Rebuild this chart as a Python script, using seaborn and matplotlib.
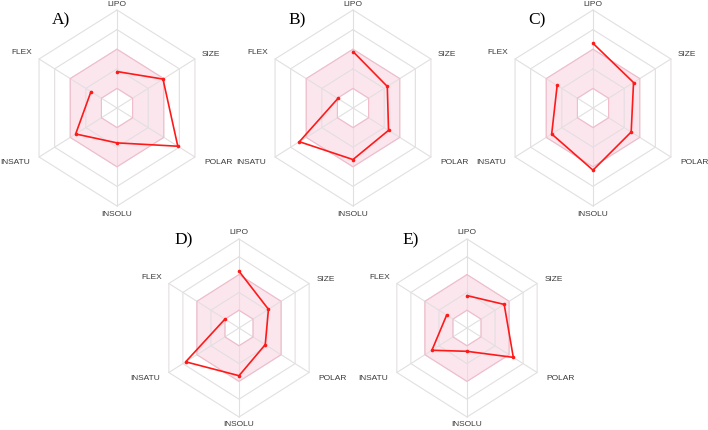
import numpy as np
import pandas as pd
import matplotlib
matplotlib.use("Agg")
import matplotlib.pyplot as plt
import seaborn as sns

# radar axes, clockwise from the top
props = ["LIPO", "SIZE", "POLAR", "INSOLU", "INSATU", "FLEX"]
angles_deg = [90, 30, -30, -90, -150, 150]

# values, in ring units (ring 1 = inner hole, ring 5 = outer edge)
vals_a = [1.86, 2.95, 3.90, 1.78, 2.65, 1.67]
vals_b = [2.88, 2.20, 2.28, 2.63, 3.44, 0.97]
vals_c = [3.30, 2.60, 2.45, 3.17, 2.65, 2.30]
vals_d = [3.19, 2.10, 1.87, 2.68, 3.80, 1.00]
vals_e = [1.82, 2.65, 3.30, 1.31, 2.50, 1.45]

panel_names = ["A)", "B)", "C)", "D)", "E)"]
panel_vals = [vals_a, vals_b, vals_c, vals_d, vals_e]

W, H = 708, 430
# panel centres in pixels (from top-left) and px per data unit (x, y)
centres = [(117, 108), (353, 108), (593, 108), (239, 328), (467, 328)]
scales = [(18.0, 19.6), (18.0, 19.6), (18.0, 19.6), (16.2, 17.8), (16.2, 17.8)]

# label offsets in pixels from the outer vertex
label_offsets = {
    "LIPO": ((0, 6), "center", "center"),
    "SIZE": ((7, 4), "left", "center"),
    "POLAR": ((9, -6), "left", "center"),
    "INSOLU": ((0, -8), "center", "center"),
    "INSATU": ((-9, -6), "right", "center"),
    "FLEX": ((-7, 6), "right", "center"),
}

GRID = "#e2dfe1"
PINK_FILL = "#fce6ee"
PINK_EDGE = "#f2bccb"
RED = "#ff1a1a"

sns.set_style("white")
plt.rcParams["font.family"] = ["Liberation Sans", "DejaVu Sans"]

ang = np.radians(angles_deg)
cosv, sinv = np.cos(ang), np.sin(ang)


def ring(r):
    xs = np.append(r * cosv, r * cosv[0])
    ys = np.append(r * sinv, r * sinv[0])
    return xs, ys


def draw_panel(fig, name, vals, centre, scale):
    cx, cy = centre
    sx, sy = scale
    bw, bh = 240, 224
    ax = fig.add_axes([(cx - bw / 2) / W, (H - cy - bh / 2) / H, bw / W, bh / H])
    ax.set_xlim(-bw / 2 / sx, bw / 2 / sx)
    ax.set_ylim(-bh / 2 / sy, bh / 2 / sy)
    ax.set_axis_off()

    # pink optimal band between ring 1 and ring 3
    ox, oy = ring(3)
    ix, iy = ring(1)
    band_x = np.concatenate([ox, ix[::-1]])
    band_y = np.concatenate([oy, iy[::-1]])
    ax.fill(band_x, band_y, color=PINK_FILL, lw=0, zorder=1)

    for r in range(1, 6):
        xs, ys = ring(r)
        ax.plot(xs, ys, color=GRID, lw=0.8, zorder=2)
    for c, s in zip(cosv, sinv):
        ax.plot([0, 5 * c], [0, 5 * s], color=GRID, lw=0.8, zorder=2)
    for r in (1, 3):
        xs, ys = ring(r)
        ax.plot(xs, ys, color=PINK_EDGE, lw=0.8, zorder=2)

    v = np.array(vals)
    df = pd.DataFrame({
        "x": np.append(v * cosv, v[0] * cosv[0]),
        "y": np.append(v * sinv, v[0] * sinv[0]),
    })
    sns.lineplot(data=df, x="x", y="y", sort=False, color=RED, lw=1.2,
                 marker="o", markersize=2.6, markeredgewidth=0, ax=ax, zorder=4)
    ax.set_xlabel("")
    ax.set_ylabel("")

    for p, c, s in zip(props, cosv, sinv):
        off, ha, va = label_offsets[p]
        ax.annotate(p, (5 * c, 5 * s), xytext=off, textcoords="offset pixels",
                    ha=ha, va=va, fontsize=6, color="#3a3a3a", annotation_clip=False)

    fig.text((cx - 65) / W, 1 - (cy - 88) / H, name, ha="left", va="center",
             fontsize=12.5, family=["Liberation Serif", "DejaVu Serif"], color="black")


def main():
    fig = plt.figure(figsize=(W / 100, H / 100), dpi=100)
    for name, vals, centre, scale in zip(panel_names, panel_vals, centres, scales):
        draw_panel(fig, name, vals, centre, scale)
    fig.savefig("out.png", dpi=100, facecolor="white")


if __name__ == "__main__":
    main()
